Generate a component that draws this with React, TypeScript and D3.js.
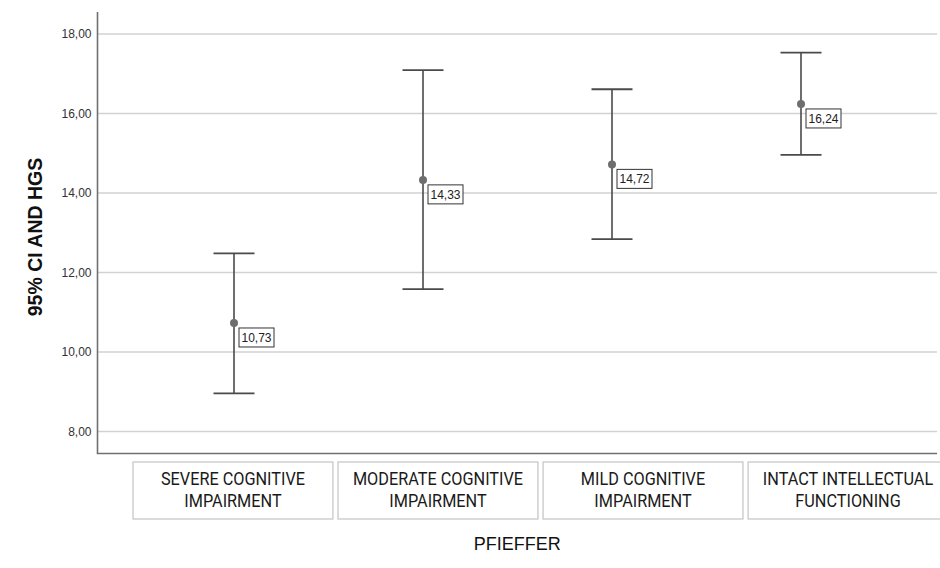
import * as d3 from 'd3'
import React, { useEffect, useRef } from 'react'

const categories = [
  'SEVERE COGNITIVE|IMPAIRMENT',
  'MODERATE COGNITIVE|IMPAIRMENT',
  'MILD COGNITIVE|IMPAIRMENT',
  'INTACT INTELLECTUAL|FUNCTIONING',
]
const means = [10.73, 14.33, 14.72, 16.24]
const lower = [8.96, 11.58, 12.84, 14.96]
const upper = [12.48, 17.09, 16.61, 17.53]
const meanLabels = ['10,73', '14,33', '14,72', '16,24']
const yTicks = [8, 10, 12, 14, 16, 18]

const W = 940
const H = 568

const ErrorBarChart = () => {
  const ref = useRef(null)

  useEffect(() => {
    const svg = d3.select(ref.current)
    svg.selectAll('*').remove()

    const left = 97.5
    const right = 937
    const top = 12
    const bottom = 453.5

    const y = d3.scaleLinear().domain([8, 18]).range([431.5, 34])
    // bars sit on an even grid, the category boxes on a slightly wider one
    const xBar = d3.scaleBand().domain(categories).range([139.5, 895.5])
    const xBox = d3.scaleBand().domain(categories).range([133, 948]).paddingInner(0.025)

    const g = svg.append('g')

    // gridlines
    g.selectAll('line.grid')
      .data(yTicks)
      .enter()
      .append('line')
      .attr('x1', left)
      .attr('x2', right)
      .attr('y1', (d) => y(d))
      .attr('y2', (d) => y(d))
      .attr('stroke', '#d2d2d2')
      .attr('stroke-width', 1.5)

    // tick labels
    g.selectAll('text.tick')
      .data(yTicks)
      .enter()
      .append('text')
      .attr('x', left - 6)
      .attr('y', (d) => y(d))
      .attr('dy', '0.35em')
      .attr('text-anchor', 'end')
      .attr('font-family', 'Liberation Sans, Arial, sans-serif')
      .attr('font-size', 12)
      .attr('fill', '#333')
      .text((d) => d.toFixed(2).replace('.', ','))

    // axes
    g.append('path')
      .attr('d', `M${left},${top}V${bottom}H${right}`)
      .attr('fill', 'none')
      .attr('stroke', '#707070')
      .attr('stroke-width', 1.6)

    // error bars
    const bars = g
      .selectAll('g.bar')
      .data(categories)
      .enter()
      .append('g')
      .attr('transform', (d) => `translate(${xBar(d)! + xBar.bandwidth() / 2},0)`)

    bars
      .append('line')
      .attr('y1', (d, i) => y(upper[i]))
      .attr('y2', (d, i) => y(lower[i]))
      .attr('stroke', '#4a4a4a')
      .attr('stroke-width', 1.6)

    bars
      .selectAll('line.cap')
      .data((d, i) => [upper[i], lower[i]])
      .enter()
      .append('line')
      .attr('x1', -20.5)
      .attr('x2', 20.5)
      .attr('y1', (v) => y(v))
      .attr('y2', (v) => y(v))
      .attr('stroke', '#4a4a4a')
      .attr('stroke-width', 1.8)

    bars
      .append('circle')
      .attr('cy', (d, i) => y(means[i]))
      .attr('r', 4)
      .attr('fill', '#6e6e6e')

    bars
      .append('rect')
      .attr('x', 5)
      .attr('y', (d, i) => y(means[i]) + 5)
      .attr('width', 35)
      .attr('height', 19)
      .attr('fill', '#fff')
      .attr('stroke', '#333')
      .attr('stroke-width', 1)

    bars
      .append('text')
      .attr('x', 22.5)
      .attr('y', (d, i) => y(means[i]) + 14.5)
      .attr('dy', '0.35em')
      .attr('text-anchor', 'middle')
      .attr('font-family', 'Liberation Sans, Arial, sans-serif')
      .attr('font-size', 12)
      .attr('fill', '#222')
      .text((d, i) => meanLabels[i])

    // category boxes
    const boxes = g
      .selectAll('g.cat')
      .data(categories)
      .enter()
      .append('g')
      .attr('transform', (d) => `translate(${xBox(d)},462)`)

    boxes
      .append('rect')
      .attr('width', xBox.bandwidth())
      .attr('height', 57)
      .attr('fill', '#fff')
      .attr('stroke', '#c8c8c8')
      .attr('stroke-width', 1.3)

    // the original labels use a narrow face; squeeze Roboto horizontally
    boxes
      .selectAll('text')
      .data((d) => d.split('|'))
      .enter()
      .append('text')
      .attr('transform', (t, i) => `translate(${xBox.bandwidth() / 2},${23 + i * 22}) scale(0.93,1)`)
      .attr('text-anchor', 'middle')
      .attr('font-family', 'Roboto, sans-serif')
      .attr('font-size', 17.5)
      .attr('fill', '#1a1a1a')
      .text((t) => t)

    // axis titles
    g.append('text')
      .attr('x', (left + right) / 2)
      .attr('y', 550)
      .attr('text-anchor', 'middle')
      .attr('font-family', 'Liberation Sans, Arial, sans-serif')
      .attr('font-size', 18)
      .attr('fill', '#111')
      .text('PFIEFFER')

    g.append('text')
      .attr('transform', `translate(42,${237}) rotate(-90)`)
      .attr('text-anchor', 'middle')
      .attr('font-family', 'Liberation Sans, Arial, sans-serif')
      .attr('font-size', 19.5)
      .attr('font-weight', 'bold')
      .attr('fill', '#111')
      .text('95% CI AND HGS')
  }, [])

  return <svg ref={ref} width={W} height={H} style={{ display: 'block' }}></svg>
}

export default function App() {
  return (
    <div style={{ position: 'fixed', left: 0, top: 0, width: W, height: H, overflow: 'hidden', background: '#fff' }}>
      <ErrorBarChart />
    </div>
  )
}
